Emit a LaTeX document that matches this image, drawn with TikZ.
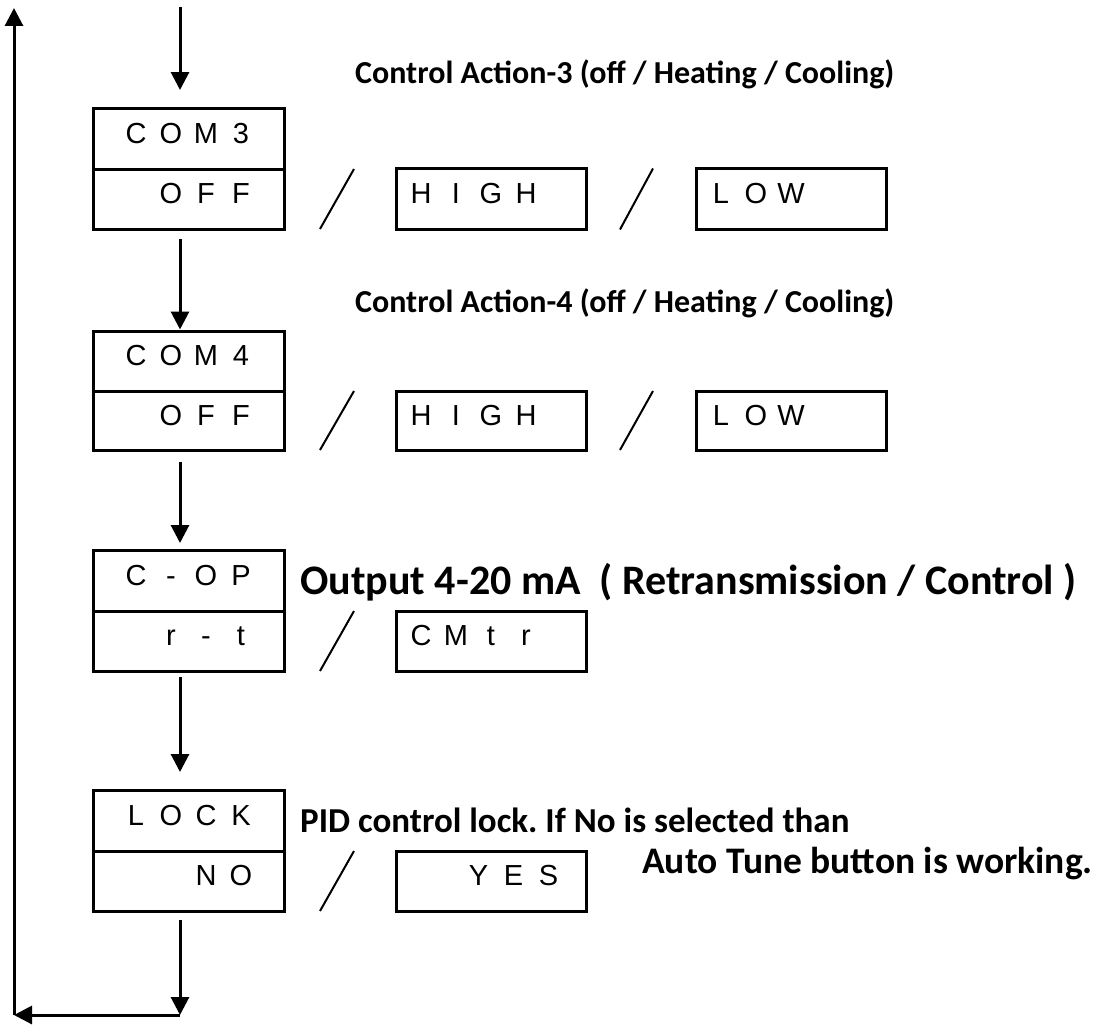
\documentclass[tikz,border=0pt]{standalone}
\usepackage{fontspec}
\setmainfont{Carlito}
\newfontfamily\segfont{Liberation Sans}
\usetikzlibrary{positioning,arrows.meta}
\newcommand\segs[4]{\makebox[35pt]{#1}\makebox[35pt]{#2}\makebox[35pt]{#3}\makebox[35pt]{#4}}
\frenchspacing

\begin{document}
\begin{tikzpicture}[x=1pt, y=-1pt,
  every node/.style={font=\segfont\fontsize{29}{30}\selectfont},
  dispbox/.style={draw, line width=3pt, outer sep=0pt, inner sep=0pt, minimum width=191pt, minimum height=61pt, text height=21pt, text depth=12pt},
  optbox/.style={dispbox, minimum width=190pt, text width=175pt, align=left},
  flow/.style={line width=3pt, -{Triangle[length=18pt,width=18pt]}, shorten <=10pt},
  sep/.style={line width=2pt},
  caption/.style={anchor=base west, inner sep=0pt, font=\bfseries\fontsize{32}{38}\selectfont},
  bigcaption/.style={caption, font=\bfseries\fontsize{37}{44}\selectfont}]
  \useasboundingbox (0,0) rectangle (1099,1025);

  \node[dispbox] (con3) at (188.5,138.5) {\segs{C}{O}{M}{3}};
  \node[dispbox, below=0pt of con3, minimum height=60pt] (con3v) {\segs{}{O}{F}{F}};
  \node[optbox, right=112pt of con3v] (high3) {\segs{H}{I}{G}{H}};
  \node[optbox, right=110pt of high3] (low3) {\segs{L}{O}{W}{}};

  \node[dispbox, below=102pt of con3v, minimum height=60pt] (con4) {\segs{C}{O}{M}{4}};
  \node[dispbox, below=0pt of con4, minimum height=59pt] (con4v) {\segs{}{O}{F}{F}};
  \node[optbox, right=112pt of con4v, minimum height=59pt] (high4) {\segs{H}{I}{G}{H}};
  \node[optbox, right=110pt of high4, minimum height=59pt] (low4) {\segs{L}{O}{W}{}};

  \node[dispbox, below=100pt of con4v] (cop) {\segs{C}{-}{O}{P}};
  \node[dispbox, below=0pt of cop, minimum height=60pt] (copv) {\segs{}{r}{-}{t}};
  \node[optbox, right=112pt of copv, minimum height=60pt] (cmtr) {\segs{C}{M}{t}{r}};

  \node[dispbox, below=119pt of copv] (lock) {\segs{L}{O}{C}{K}};
  \node[dispbox, below=0pt of lock, minimum height=60pt] (lockv) {\segs{}{}{N}{O}};
  \node[optbox, right=112pt of lockv, minimum height=60pt, text width=150pt, align=right] (yes) {\segs{}{Y}{E}{S}};

  \node[caption] (act3) at (355,83) {Control Action-3 (off / Heating / Cooling)};
  \node[caption] (act4) at (355,312) {Control Action-4 (off / Heating / Cooling)};
  \node[bigcaption, font=\bfseries\fontsize{42}{48}\selectfont] (outp) at (300,594) {Output 4-20 mA\ \ ( Retransmission / Control )};
  \node[bigcaption, font=\bfseries\fontsize{35}{42}\selectfont] (pid) at (300,832) {PID control lock. If No is selected than};
  \node[bigcaption, font=\bfseries\fontsize{37.5}{44}\selectfont] (auto) at (642,873) {Auto Tune button is working.};

  \coordinate (in) at (180,7);
  \coordinate (turn) at (180,1015);
  \coordinate (back) at (14,1015);
  \coordinate (top) at (14,8);

  \draw[flow, shorten <=0pt, shorten >=18pt] (in) -- (in |- con3.north);
  \draw[flow, shorten >=1.5pt] (in |- con3v.south) -- (in |- con4.north);
  \draw[flow, shorten <=12pt, shorten >=7pt] (in |- con4v.south) -- (in |- cop.north);
  \draw[flow, shorten <=6pt, shorten >=18pt] (in |- copv.south) -- (in |- lock.north);
  \draw[flow, shorten <=9pt] (in |- lockv.south) -- (turn);
  \draw[flow, shorten <=0pt] (turn) -- (back);
  \draw[flow, shorten <=0pt] (back) -- (top);

  \draw[sep] ([xshift=36pt]con3v.south east) -- ([xshift=70pt]con3v.north east);
  \draw[sep] ([xshift=34pt]high3.south east) -- ([xshift=67pt]high3.north east);
  \draw[sep] ([xshift=36pt]con4v.south east) -- ([xshift=70pt]con4v.north east);
  \draw[sep] ([xshift=34pt]high4.south east) -- ([xshift=67pt]high4.north east);
  \draw[sep] ([xshift=36pt]copv.south east) -- ([xshift=70pt]copv.north east);
  \draw[sep] ([xshift=36pt]lockv.south east) -- ([xshift=70pt]lockv.north east);
\end{tikzpicture}
\end{document}
